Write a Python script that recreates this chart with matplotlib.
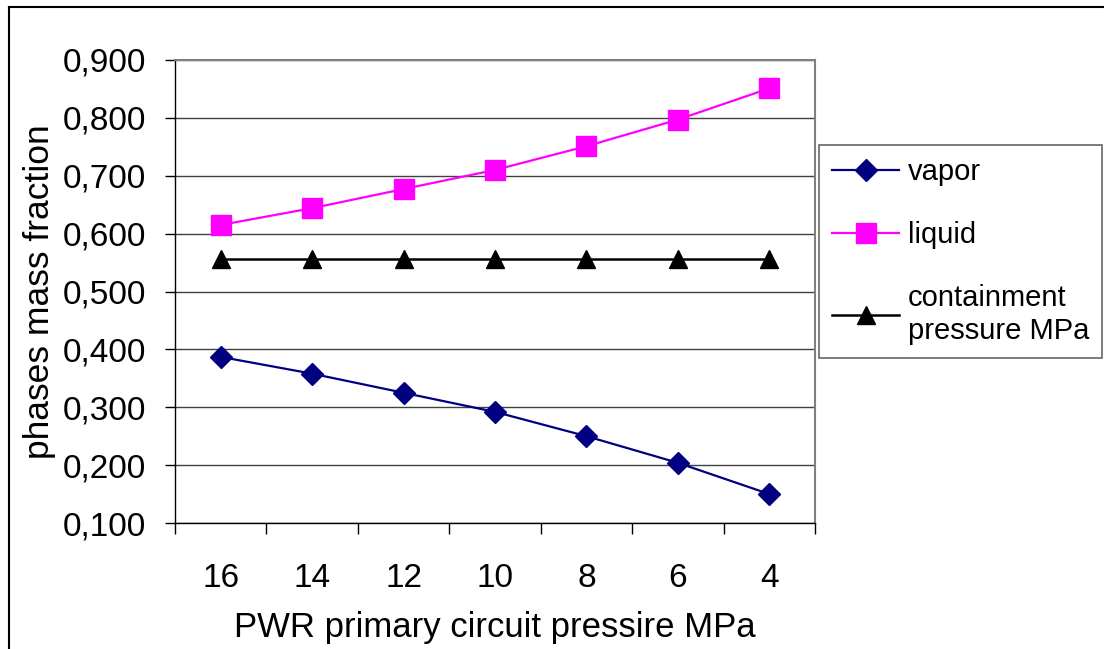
import matplotlib
matplotlib.use("Agg")
import matplotlib.pyplot as plt
from matplotlib.lines import Line2D
import numpy as np

plt.rcParams['font.family'] = ['Liberation Sans', 'DejaVu Sans']

pressures = ["16", "14", "12", "10", "8", "6", "4"]
vapor = [0.387, 0.358, 0.325, 0.292, 0.250, 0.204, 0.150]
liquid = [0.615, 0.644, 0.677, 0.710, 0.751, 0.797, 0.851]
containment = [0.556, 0.556, 0.556, 0.556, 0.556, 0.556, 0.556]
y_ticks = [0.1, 0.2, 0.3, 0.4, 0.5, 0.6, 0.7, 0.8, 0.9]
y_tick_labels = ["0,100", "0,200", "0,300", "0,400", "0,500", "0,600", "0,700", "0,800", "0,900"]

fig = plt.figure(figsize=(11.04, 6.49), dpi=100)
ax = fig.add_axes([175 / 1104, 1 - 523 / 649, 640 / 1104, 463 / 649])

x = np.arange(len(pressures))
ax.plot(x, vapor, color="#000080", lw=1.6, marker="D", ms=11.5, label="vapor")
ax.plot(x, liquid, color="#FF00FF", lw=1.6, marker="s", ms=14, label="liquid")
ax.plot(x, containment, color="black", lw=1.8, marker="^", ms=13.5,
        label="containment\npressure MPa")

ax.set_xlim(-0.5, len(pressures) - 0.5)
ax.set_ylim(0.1, 0.9)
ax.set_yticks(y_ticks)
ax.set_yticklabels(y_tick_labels, fontsize=24)
ax.yaxis.grid(True, color="#404040", lw=1)
ax.set_axisbelow(True)

ax.set_xticks(np.arange(-0.5, len(pressures)), labels=[])
ax.set_xticks(x, minor=True)
ax.set_xticklabels(pressures, minor=True, fontsize=24)
ax.tick_params(axis="x", which="major", length=8, width=1, direction="out")
ax.tick_params(axis="x", which="minor", length=0, pad=29)
ax.tick_params(axis="y", length=7, width=1, direction="out", pad=14)

for side in ("top", "right"):
    ax.spines[side].set_color("#808080")
    ax.spines[side].set_linewidth(1.5)
for side in ("left", "bottom"):
    ax.spines[side].set_color("black")
    ax.spines[side].set_linewidth(1)

ax.set_xlabel("PWR primary circuit pressire MPa", fontsize=25, labelpad=12)
ax.set_ylabel("phases mass fraction", fontsize=25.5, labelpad=5)

leg = fig.legend(loc="upper left", bbox_to_anchor=(819 / 1104, 1 - 145 / 649),
                 fontsize=21, frameon=True, fancybox=False, handlelength=2.3,
                 handletextpad=0.3, labelspacing=1.2, borderpad=0.45,
                 borderaxespad=0)
leg.get_frame().set_edgecolor("#404040")
leg.get_frame().set_linewidth(1.2)

# outer chart frame
fig.add_artist(Line2D([9 / 1104, 9 / 1104], [0, 1 - 7 / 649], color="black", lw=1.5,
                      transform=fig.transFigure))
fig.add_artist(Line2D([9 / 1104, 1], [1 - 7 / 649, 1 - 7 / 649], color="black", lw=1.5,
                      transform=fig.transFigure))

fig.savefig("out.png", dpi=100)
